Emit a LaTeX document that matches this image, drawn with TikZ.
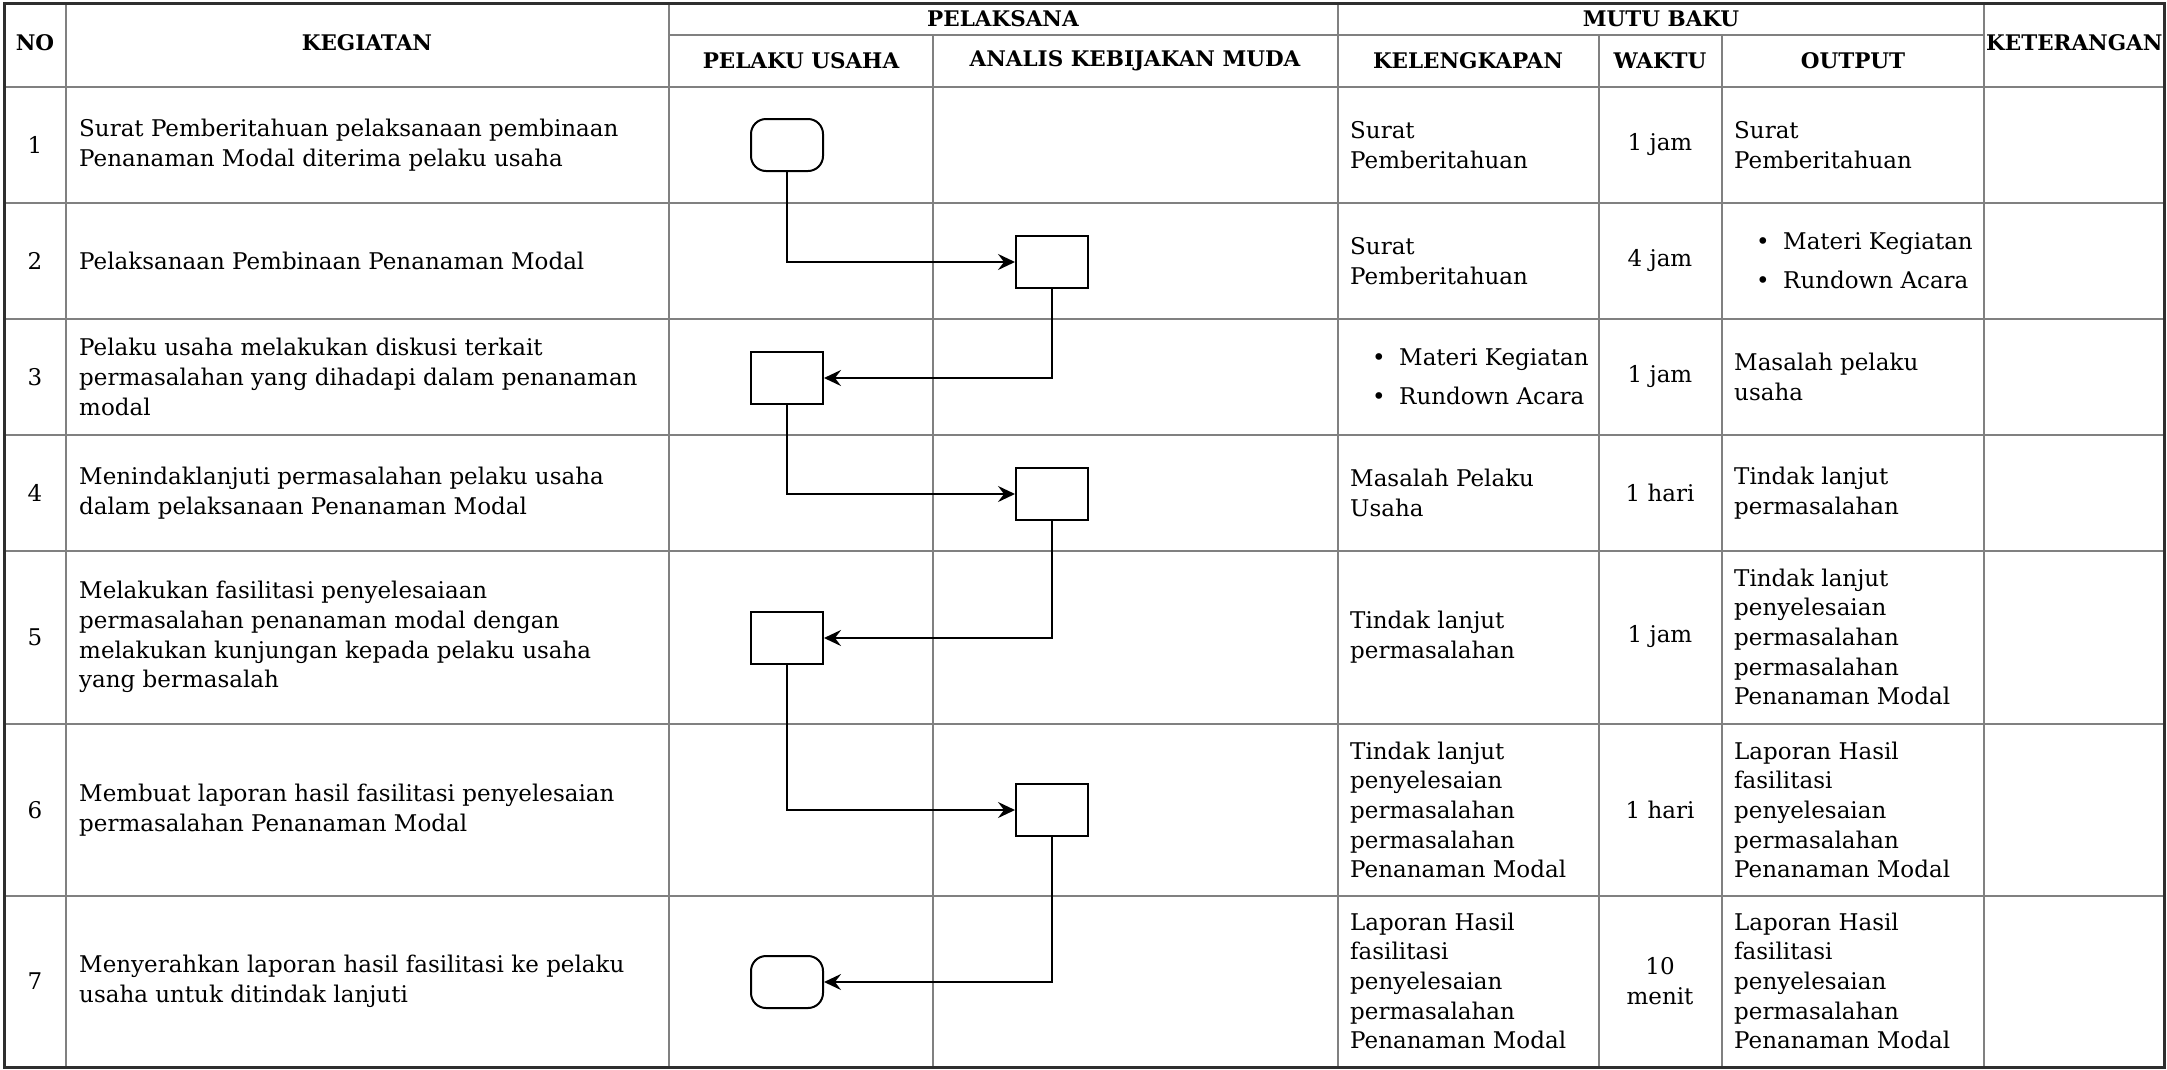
\documentclass[tikz,border=0pt]{standalone}
\usepackage{fontspec}
\setmainfont{DejaVu Serif}
\usetikzlibrary{arrows.meta}
\definecolor{gridgray}{HTML}{808080}
\definecolor{edgedark}{HTML}{2E2E2E}
\begin{document}
\begin{tikzpicture}[x=1pt,y=-1pt,
  gridline/.style={draw=gridgray, line width=2.6pt},
  body/.style={font=\fontsize{23}{29.7}\selectfont, inner sep=0pt, align=left, anchor=west},
  cbody/.style={font=\fontsize{23}{29.7}\selectfont, inner sep=0pt, align=center},
  head/.style={font=\bfseries\fontsize{21.5}{26}\selectfont, inner sep=0pt},
  procbox/.style={draw=black, line width=2pt, minimum width=72pt, minimum height=52pt, inner sep=0pt},
  termbox/.style={procbox, rounded corners=15pt},
  arr/.style={-{Stealth[length=17pt,width=16pt,inset=6pt]}, line width=2.2pt, draw=black},
]
\useasboundingbox (0,0) rectangle (2167,1069);
\fill[white] (0,0) rectangle (2167,1069);

% grid
\draw[gridline] (66,3) -- (66,1067);
\draw[gridline] (669,3) -- (669,1067);
\draw[gridline] (1338,3) -- (1338,1067);
\draw[gridline] (1984,3) -- (1984,1067);
\draw[gridline] (933,35) -- (933,1067);
\draw[gridline] (1599,35) -- (1599,1067);
\draw[gridline] (1722,35) -- (1722,1067);
\draw[gridline] (669,35) -- (1984,35);
\foreach \yy in {87,203,319,435,551,724,896}{
  \draw[gridline] (4,\yy) -- (2164,\yy);
}
\draw[draw=edgedark, line width=3pt] (4,3) rectangle (2164,1067);

% headers
\node[head] (hno) at (35,43) {NO};
\node[head] (hkeg) at (367,43) {KEGIATAN};
\node[head] (hpel) at (1003,19) {PELAKSANA};
\node[head] (hpu) at (801,61) {PELAKU USAHA};
\node[head] (hakm) at (1135,61) {ANALIS KEBIJAKAN MUDA};
\node[head] (hmb) at (1661,19) {MUTU BAKU};
\node[head] (hkel) at (1468,61) {KELENGKAPAN};
\node[head] (hwak) at (1660,61) {WAKTU};
\node[head] (hout) at (1853,61) {OUTPUT};
\node[head, anchor=west] (hket) at (1986,43) {KETERANGAN};

% numbers
\node[cbody] (n1) at (35,145) {1};
\node[cbody] (n2) at (35,261) {2};
\node[cbody] (n3) at (35,377) {3};
\node[cbody] (n4) at (35,493) {4};
\node[cbody] (n5) at (35,637) {5};
\node[cbody] (n6) at (35,810) {6};
\node[cbody] (n7) at (35,981) {7};

% kegiatan
\node[body] (k1) at (79,145) {Surat Pemberitahuan pelaksanaan pembinaan\\Penanaman Modal diterima pelaku usaha};
\node[body] (k2) at (79,261) {Pelaksanaan Pembinaan Penanaman Modal};
\node[body] (k3) at (79,377) {Pelaku usaha melakukan diskusi terkait\\permasalahan yang dihadapi dalam penanaman\\modal};
\node[body] (k4) at (79,493) {Menindaklanjuti permasalahan pelaku usaha\\dalam pelaksanaan Penanaman Modal};
\node[body] (k5) at (79,637) {Melakukan fasilitasi penyelesaiaan\\permasalahan penanaman modal dengan\\melakukan kunjungan kepada pelaku usaha\\yang bermasalah};
\node[body] (k6) at (79,810) {Membuat laporan hasil fasilitasi penyelesaian\\permasalahan Penanaman Modal};
\node[body] (k7) at (79,981) {Menyerahkan laporan hasil fasilitasi ke pelaku\\usaha untuk ditindak lanjuti};

% kelengkapan
\node[body] (l1) at (1350,145) {Surat\\Pemberitahuan};
\node[body] (l2) at (1350,261) {Surat\\Pemberitahuan};
\node[body] (l3) at (1372,377) {\makebox[27pt][l]{\textbullet}Materi Kegiatan\\[9pt]\makebox[27pt][l]{\textbullet}Rundown Acara};
\node[body] (l4) at (1350,493) {Masalah Pelaku\\Usaha};
\node[body] (l5) at (1350,637) {Tindak lanjut\\permasalahan};
\node[body] (l6) at (1350,810) {Tindak lanjut\\penyelesaian\\permasalahan\\permasalahan\\Penanaman Modal};
\node[body] (l7) at (1350,981) {Laporan Hasil\\fasilitasi\\penyelesaian\\permasalahan\\Penanaman Modal};

% waktu
\node[cbody] (w1) at (1660,145) {1 jam};
\node[cbody] (w2) at (1660,261) {4 jam};
\node[cbody] (w3) at (1660,377) {1 jam};
\node[cbody] (w4) at (1660,493) {1 hari};
\node[cbody] (w5) at (1660,637) {1 jam};
\node[cbody] (w6) at (1660,810) {1 hari};
\node[cbody] (w7) at (1660,981) {10\\menit};

% output
\node[body] (o1) at (1734,145) {Surat\\Pemberitahuan};
\node[body] (o2) at (1756,261) {\makebox[27pt][l]{\textbullet}Materi Kegiatan\\[9pt]\makebox[27pt][l]{\textbullet}Rundown Acara};
\node[body] (o3) at (1734,377) {Masalah pelaku\\usaha};
\node[body] (o4) at (1734,493) {Tindak lanjut\\permasalahan};
\node[body] (o5) at (1734,637) {Tindak lanjut\\penyelesaian\\permasalahan\\permasalahan\\Penanaman Modal};
\node[body] (o6) at (1734,810) {Laporan Hasil\\fasilitasi\\penyelesaian\\permasalahan\\Penanaman Modal};
\node[body] (o7) at (1734,981) {Laporan Hasil\\fasilitasi\\penyelesaian\\permasalahan\\Penanaman Modal};

% flow shapes
\node[termbox] (f1) at (787,145) {};
\node[procbox] (f2) at (1052,262) {};
\node[procbox] (f3) at (787,378) {};
\node[procbox] (f4) at (1052,494) {};
\node[procbox] (f5) at (787,638) {};
\node[procbox] (f6) at (1052,810) {};
\node[termbox] (f7) at (787,982) {};

% connectors
\draw[arr] (f1.south) |- (f2.west);
\draw[arr] (f2.south) |- (f3.east);
\draw[arr] (f3.south) |- (f4.west);
\draw[arr] (f4.south) |- (f5.east);
\draw[arr] (f5.south) |- (f6.west);
\draw[arr] (f6.south) |- (f7.east);
\end{tikzpicture}
\end{document}
